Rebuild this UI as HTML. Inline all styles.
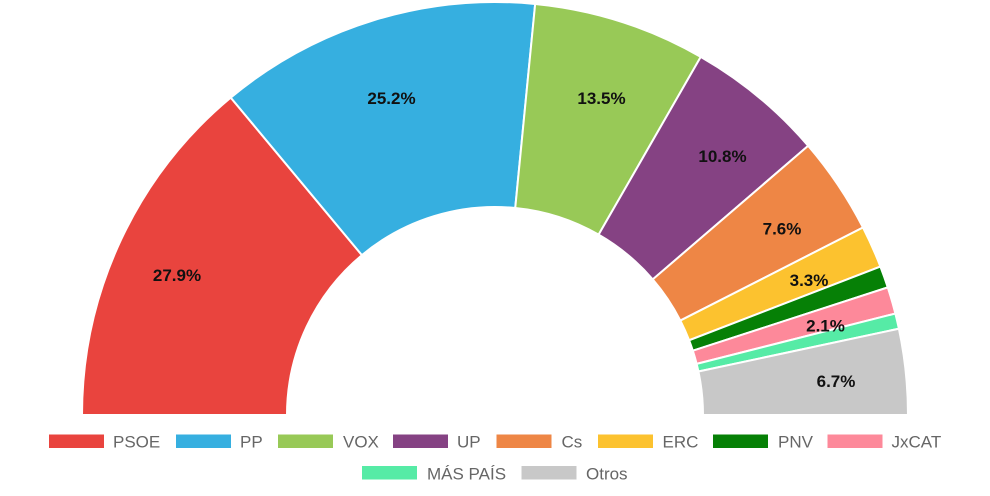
<!DOCTYPE html>
<html>
<head>
<meta charset="utf-8">
<style>
html,body{margin:0;padding:0;background:#fff;}
svg{display:block;}
.lbl{font-family:"Liberation Sans",Arial,sans-serif;font-weight:bold;font-size:17px;fill:#111;text-anchor:middle;}
.leg{font-family:"Liberation Sans",Arial,sans-serif;font-size:17px;fill:#666;}
</style>
</head>
<body>
<svg width="990" height="496" viewBox="0 0 990 496" xmlns="http://www.w3.org/2000/svg">
<g stroke="#fff" stroke-width="2" stroke-linejoin="miter">
<!-- PSOE 180 -> 129.78 -->
<path fill="#e9443e" d="M82,415 A413,413 0 0 1 230.74,97.61 L361.91,255.15 A208,208 0 0 0 287,415 Z"/>
<!-- PP 129.78 -> 84.42 -->
<path fill="#36afe0" d="M230.74,97.61 A413,413 0 0 1 535.16,3.96 L515.23,207.99 A208,208 0 0 0 361.91,255.15 Z"/>
<!-- VOX 84.42 -> 60.12 -->
<path fill="#98c957" d="M535.16,3.96 A413,413 0 0 1 700.75,56.90 L598.62,234.65 A208,208 0 0 0 515.23,207.99 Z"/>
<!-- UP 60.12 -> 40.68 -->
<path fill="#854283" d="M700.75,56.90 A413,413 0 0 1 808.20,145.79 L652.74,279.42 A208,208 0 0 0 598.62,234.65 Z"/>
<!-- Cs 40.68 -> 27.0 -->
<path fill="#ee8645" d="M808.20,145.79 A413,413 0 0 1 862.99,227.50 L680.33,320.57 A208,208 0 0 0 652.74,279.42 Z"/>
<!-- ERC 27.0 -> 21.06 -->
<path fill="#fcc22f" d="M862.99,227.50 A413,413 0 0 1 880.41,266.59 L689.11,340.26 A208,208 0 0 0 680.33,320.57 Z"/>
<!-- PNV 21.06 -> 18.0 -->
<path fill="#068006" d="M880.41,266.59 A413,413 0 0 1 887.79,287.38 L692.82,350.72 A208,208 0 0 0 689.11,340.26 Z"/>
<!-- JxCAT 18.0 -> 14.22 -->
<path fill="#fd899a" d="M887.79,287.38 A413,413 0 0 1 895.35,313.55 L696.63,363.90 A208,208 0 0 0 692.82,350.72 Z"/>
<!-- MAS PAIS 14.22 -> 12.06 -->
<path fill="#56eba6" d="M895.35,313.55 A413,413 0 0 1 898.89,328.71 L698.41,371.54 A208,208 0 0 0 696.63,363.90 Z"/>
<!-- Otros 12.06 -> 0 -->
<path fill="#c8c8c8" d="M898.89,328.71 A413,413 0 0 1 908,415 L703,415 A208,208 0 0 0 698.41,371.54 Z"/>
</g>

<text class="lbl" x="177" y="281">27.9%</text>
<text class="lbl" x="391.5" y="104">25.2%</text>
<text class="lbl" x="601.5" y="104">13.5%</text>
<text class="lbl" x="722.5" y="162">10.8%</text>
<text class="lbl" x="782" y="234.5">7.6%</text>
<text class="lbl" x="809" y="286">3.3%</text>
<text class="lbl" x="825.5" y="331.5">2.1%</text>
<text class="lbl" x="836" y="387">6.7%</text>

<!-- legend row 1 -->
<rect x="49" y="434.5" width="55" height="13.5" fill="#e9443e"/>
<text class="leg" x="113" y="447.5">PSOE</text>
<rect x="176" y="434.5" width="55" height="13.5" fill="#36afe0"/>
<text class="leg" x="240" y="447.5">PP</text>
<rect x="278" y="434.5" width="55" height="13.5" fill="#98c957"/>
<text class="leg" x="343" y="447.5">VOX</text>
<rect x="393" y="434.5" width="55" height="13.5" fill="#854283"/>
<text class="leg" x="457" y="447.5">UP</text>
<rect x="496.5" y="434.5" width="55" height="13.5" fill="#ee8645"/>
<text class="leg" x="561.5" y="447.5">Cs</text>
<rect x="598" y="434.5" width="55" height="13.5" fill="#fcc22f"/>
<text class="leg" x="662.5" y="447.5">ERC</text>
<rect x="713" y="434.5" width="55" height="13.5" fill="#068006"/>
<text class="leg" x="778" y="447.5">PNV</text>
<rect x="827.5" y="434.5" width="55" height="13.5" fill="#fd899a"/>
<text class="leg" x="891.5" y="447.5">JxCAT</text>

<!-- legend row 2 -->
<rect x="362" y="466" width="55" height="13.5" fill="#56eba6"/>
<text class="leg" x="427" y="479.5">MÁS PAÍS</text>
<rect x="521.5" y="466" width="55" height="13.5" fill="#c8c8c8"/>
<text class="leg" x="586" y="479.5">Otros</text>
</svg>
</body>
</html>
